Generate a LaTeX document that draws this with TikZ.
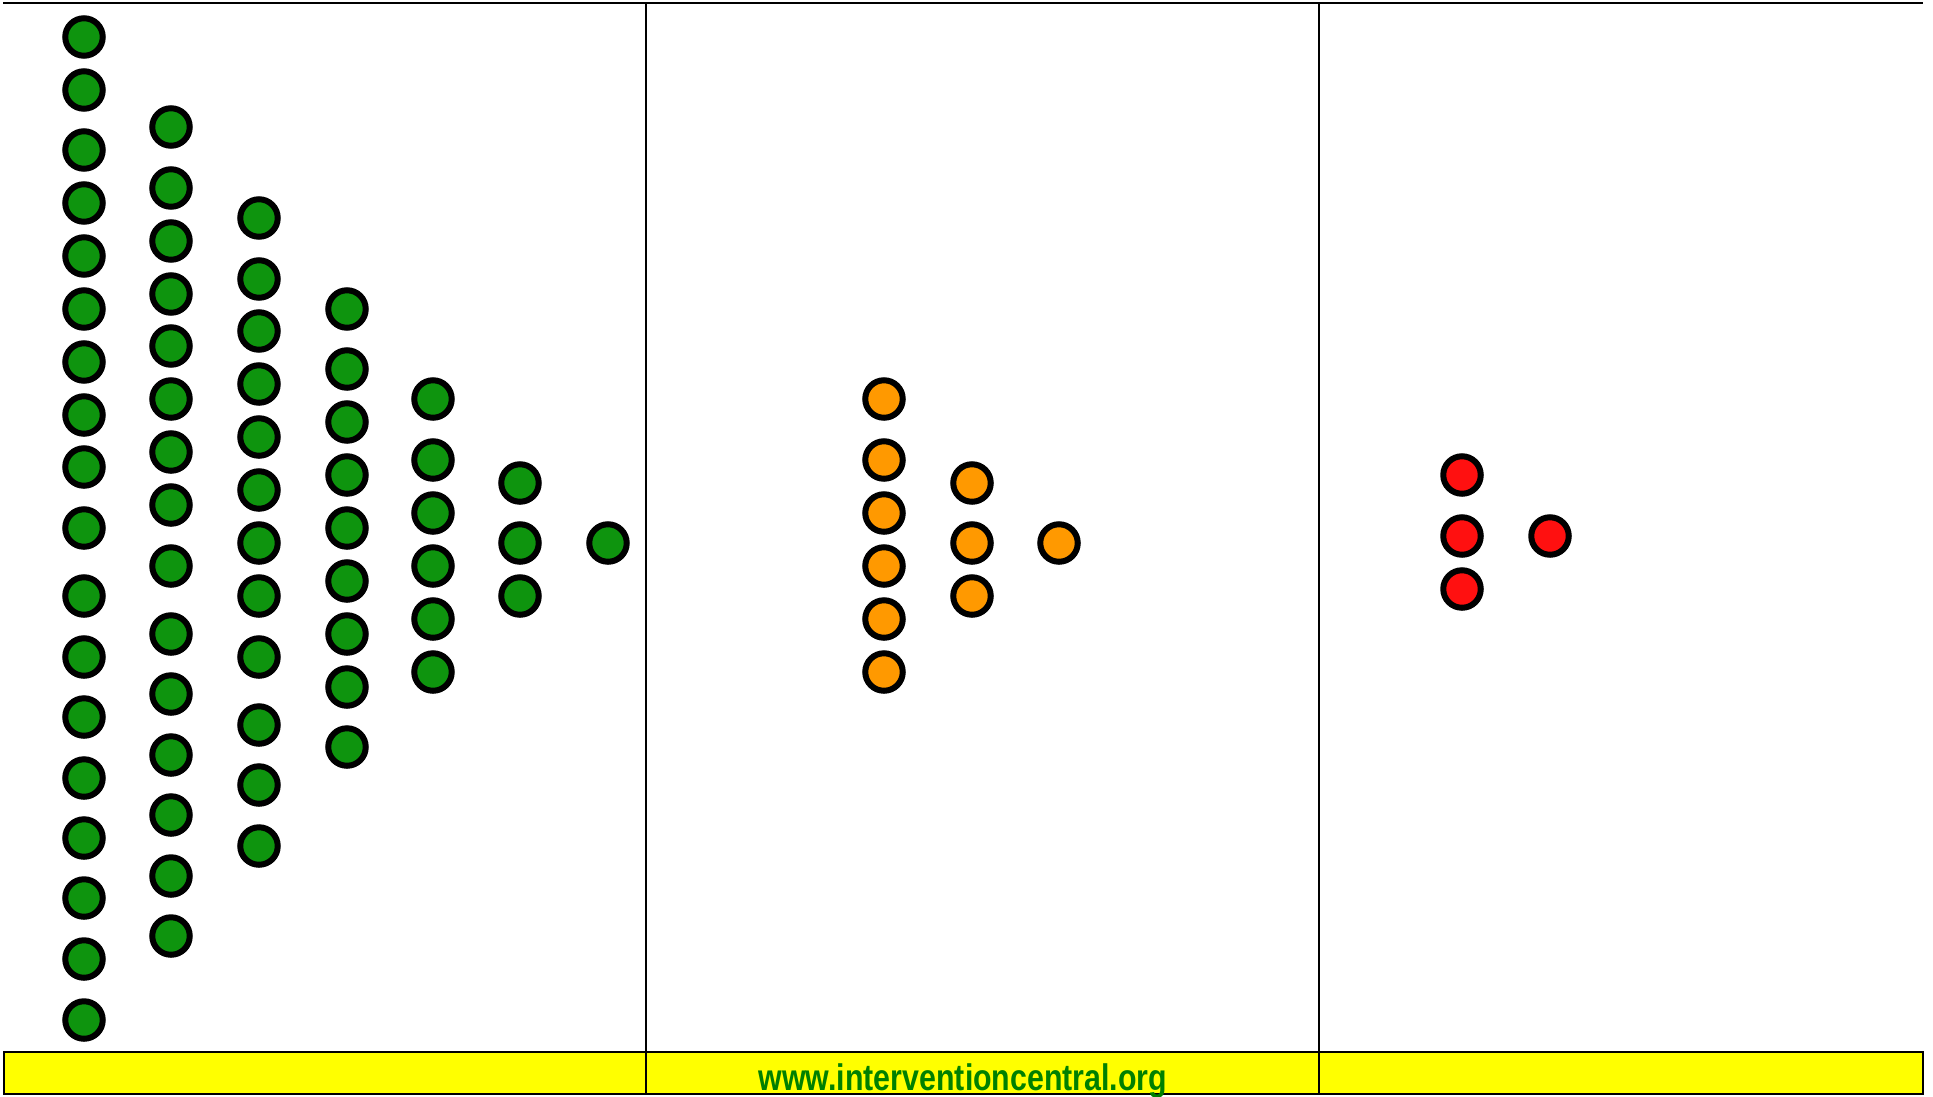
\documentclass[tikz,border=0pt]{standalone}
\usepackage{fontspec}
\setmainfont{Liberation Sans}
\newfontfamily\sitefont[FakeStretch=0.82]{Liberation Sans}
\usepackage{xcolor}
\usepackage{tikz}
\definecolor{DotGreen}{HTML}{0E940E}
\definecolor{DotOrange}{HTML}{FF9900}
\definecolor{DotRed}{HTML}{FF1010}
\definecolor{BandYellow}{HTML}{FFFF00}
\definecolor{SiteGreen}{HTML}{008000}

\begin{document}
\begin{tikzpicture}[x=1pt,y=-1pt,
  dot/.style={circle,draw=black,line width=6pt,inner sep=0pt,minimum size=37.5pt},
  green dot/.style={dot,fill=DotGreen},
  orange dot/.style={dot,fill=DotOrange},
  red dot/.style={dot,fill=DotRed},
  rule/.style={line width=2.5pt,black},
  site/.style={font=\sitefont\bfseries\fontsize{37}{40}\selectfont,text=SiteGreen,anchor=base,inner sep=0pt}
]
\useasboundingbox (0,0) rectangle (1933,1096);
% table frame
\draw[rule,fill=BandYellow] (4,1052) rectangle (1923,1094);
\draw[rule] (3,3) -- (1923,3);
\draw[rule] (646,3) -- (646,1094);
\draw[rule] (1319,3) -- (1319,1094);
\node[site] (url) at (963,1090) {www.interventioncentral.org};
% green dots
\foreach \x/\ys [count=\c] in {84/{37,90,150,203,256,309,362,415,467,528,596,657,717,778,838,898,959,1020},
    171/{127,188,241,294,346,399,452,505,566,634,694,755,815,876,936},
    259/{218,279,331,384,437,490,543,596,657,725,785,846},
    347/{309,369,422,475,528,581,634,687,747},
    433/{399,460,513,566,619,672},
    520/{483,543,596},
    608/{543}}
  \foreach \y [count=\r] in \ys
    \node[green dot] (green-\c-\r) at (\x,\y) {};
% orange dots
\foreach \x/\ys [count=\c] in {884/{399,460,513,566,619,672},972/{483,543,596},1059/{543}}
  \foreach \y [count=\r] in \ys
    \node[orange dot] (orange-\c-\r) at (\x,\y) {};
% red dots
\foreach \x/\ys [count=\c] in {1462/{475,536,589},1550/{536}}
  \foreach \y [count=\r] in \ys
    \node[red dot] (red-\c-\r) at (\x,\y) {};
\end{tikzpicture}
\end{document}
